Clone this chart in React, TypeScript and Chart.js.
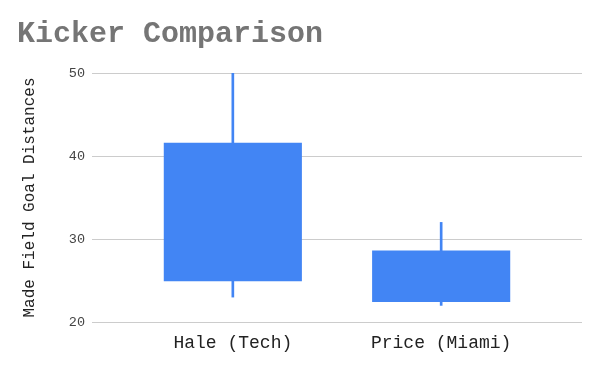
import React, { useEffect, useRef } from 'react';
import { Chart, registerables } from 'chart.js';

Chart.register(...registerables);

const kickers = ['Hale (Tech)', 'Price (Miami)'];
const lows = [23, 22];
const boxBottoms = [24.9, 22.4];
const boxTops = [41.6, 28.6];
const highs = [50, 32];
const yTicks = [20, 30, 40, 50];

const FONT = "'Liberation Mono', 'Courier New', monospace";
const BLUE = '#4285F4';

export default function App() {
  const ref = useRef<HTMLCanvasElement | null>(null);

  useEffect(() => {
    if (!ref.current) return;
    const chart = new Chart(ref.current, {
      type: 'bar',
      data: {
        datasets: [
          {
            label: 'Range',
            data: kickers.map((_, i) => ({ x: i, y: [lows[i], highs[i]] })) as any,
            backgroundColor: BLUE,
            borderWidth: 0,
            barThickness: 2,
            grouped: false,
            order: 2,
          } as any,
          {
            label: 'Box',
            data: kickers.map((_, i) => ({ x: i, y: [boxBottoms[i], boxTops[i]] })) as any,
            backgroundColor: BLUE,
            borderWidth: 0,
            categoryPercentage: 1,
            barPercentage: 0.663,
            grouped: false,
            order: 1,
          } as any,
        ],
      },
      options: {
        animation: false,
        responsive: true,
        maintainAspectRatio: false,
        layout: { padding: { left: 17, right: 18, top: 0, bottom: 0 } },
        plugins: {
          legend: { display: false },
          tooltip: { enabled: false },
          title: {
            display: true,
            text: 'Kicker Comparison',
            align: 'start',
            color: '#757575',
            font: { family: FONT, size: 30, weight: 'bold', lineHeight: 1.2 },
            padding: { top: 16, bottom: 21 },
          },
        },
        scales: {
          x: {
            type: 'linear',
            offset: false,
            bounds: 'data',
            min: -0.676,
            max: 1.676,
            grid: { display: false, drawTicks: false, offset: false },
            border: { display: false },
            afterBuildTicks: (scale: any) => {
              scale.ticks = kickers.map((_, i) => ({ value: i }));
            },
            afterFit: (scale: any) => {
              scale.height = 49;
            },
            ticks: {
              autoSkip: false,
              maxRotation: 0,
              padding: 10,
              color: '#222222',
              font: { family: FONT, size: 18 },
              callback: (v: any) => kickers[Math.round(Number(v))] ?? '',
            },
          },
          y: {
            min: yTicks[0],
            max: yTicks[yTicks.length - 1],
            afterBuildTicks: (scale: any) => {
              scale.ticks = yTicks.map((v) => ({ value: v }));
            },
            afterFit: (scale: any) => {
              scale.width = 75;
            },
            grid: { color: '#cccccc', drawTicks: false, lineWidth: 1 },
            border: { display: false },
            ticks: {
              padding: 7,
              color: '#444444',
              font: { family: FONT, size: 13.5 },
            },
            title: {
              display: true,
              text: 'Made Field Goal Distances',
              color: '#222222',
              font: { family: FONT, size: 16 },
              padding: { top: 3, bottom: 0 },
            },
          },
        },
      },
    });
    return () => chart.destroy();
  }, []);

  return (
    <div style={{ position: 'fixed', left: 0, top: 0, width: 600, height: 371, background: '#ffffff' }}>
      <canvas ref={ref} />
    </div>
  );
}
